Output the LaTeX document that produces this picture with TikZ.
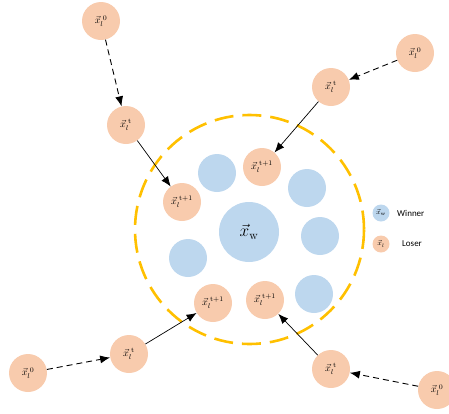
\documentclass[tikz,border=0pt]{standalone}
\usepackage{fontspec}
\newfontfamily\legendfont{Carlito}
\usetikzlibrary{arrows.meta}
\definecolor{loser}{HTML}{F8CBAD}
\definecolor{winner}{HTML}{BDD7EE}
\definecolor{ring}{HTML}{FFC000}
\tikzset{
  px/.style={x=1pt,y=-1pt},
  losernode/.style={circle, fill=loser, draw=none, minimum size=38pt, inner sep=0pt, font=\normalsize},
  winnernode/.style={circle, fill=winner, draw=none, minimum size=38pt, inner sep=0pt},
  centernode/.style={circle, fill=winner, draw=none, minimum size=60pt, inner sep=0pt, font=\LARGE},
  keynode/.style={circle, draw=none, minimum size=17pt, inner sep=0pt, font=\scriptsize},
  keytext/.style={anchor=west, font=\legendfont\small, inner sep=0pt},
  solidarrow/.style={-{Latex[length=10pt,width=8pt]}, line width=0.7pt, black},
  dasharrow/.style={-{Latex[length=10pt,width=8pt]}, line width=0.9pt, black, dash pattern=on 6pt off 4pt},
  ringline/.style={draw=ring, line width=2.6pt, dash pattern=on 19pt off 9pt}
}
\newcommand{\xl}[1]{$\vec{x}_{l}^{\;\mathrm{#1}}$}
\begin{document}
\begin{tikzpicture}[px]
\useasboundingbox (0,0) rectangle (449,413);

% boundary of the neighbourhood
\draw[ringline] (249.5,229.5) circle (114.5pt);

% winner and its neighbours
\node[centernode] (w) at (249,232) {$\vec{x}_{\mathrm{w}}$};
\node[winnernode] (b1) at (217,173) {};
\node[winnernode] (b2) at (307,188) {};
\node[winnernode] (b3) at (320,236) {};
\node[winnernode] (b4) at (188,258) {};
\node[winnernode] (b5) at (314,294) {};

% losers after the update
\node[losernode] (it) at (262,167) {\xl{t+1}};
\node[losernode] (il) at (182,202) {\xl{t+1}};
\node[losernode] (ibl) at (213,303) {\xl{t+1}};
\node[losernode] (ibr) at (265,300) {\xl{t+1}};

% loser trajectories
\node[losernode] (a0) at (101,21) {\xl{0}};
\node[losernode] (at) at (126,125) {\xl{t}};
\node[losernode] (b0) at (415,53) {\xl{0}};
\node[losernode] (bt) at (331,87) {\xl{t}};
\node[losernode] (c0) at (28,373) {\xl{0}};
\node[losernode] (ct) at (129,354) {\xl{t}};
\node[losernode] (d0) at (437,390) {\xl{0}};
\node[losernode] (dt) at (331,369) {\xl{t}};

\draw[dasharrow] (a0) -- (at);
\draw[dasharrow] (b0) -- (bt);
\draw[dasharrow] (c0) -- (ct);
\draw[dasharrow] (d0) -- (dt);
\draw[solidarrow] (at) -- (il);
\draw[solidarrow] (bt) -- (it);
\draw[solidarrow] (ct) -- (ibl);
\draw[solidarrow] (dt) -- (ibr);

% legend
\node[keynode, fill=winner] (kw) at (381,213) {$\vec{x}_{\mathrm{w}}$};
\node[keynode, fill=loser] (kl) at (381,244) {$\vec{x}_{l}$};
\node[keytext] (tw) at (397,213) {Winner};
\node[keytext] (tl) at (402,244) {Loser};
\end{tikzpicture}
\end{document}
